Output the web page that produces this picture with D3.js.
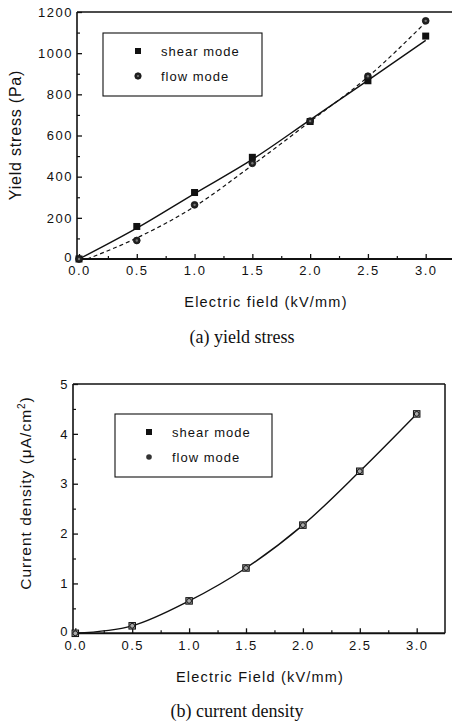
<!DOCTYPE html>
<html><head><meta charset="utf-8">
<script src="https://cdn.jsdelivr.net/npm/d3@7"></script>
<style>
body{margin:0;background:#fff;}
svg{display:block;}
text{font-family:"Liberation Sans",Arial,sans-serif;fill:#111;}
.cap{font-family:"Liberation Serif","Times New Roman",serif;}
</style></head>
<body>
<svg id="c" width="452" height="726"></svg>
<script>
// ---- data ----
const fieldX = [0, 0.5, 1.0, 1.5, 2.0, 2.5, 3.0];
const shearStress = [0, 158, 323, 494, 668, 866, 1083];
const flowStress = [0, 90, 263, 465, 670, 888, 1157];
const shearFitX = [0, 0.5, 1.0, 1.5, 2.0, 2.5, 3.0];
const shearFitY = [0, 150, 318, 484, 676, 868, 1062];
const flowFitX = [0.07, 0.5, 1.0, 1.5, 2.0, 2.5, 3.0];
const flowFitY = [0, 102, 255, 456, 668, 885, 1150];
const shearCurrent = [0, 0.15, 0.65, 1.31, 2.17, 3.25, 4.40];
const flowCurrent = [0, 0.15, 0.65, 1.31, 2.17, 3.25, 4.40];
const xTicks = [0, 0.5, 1.0, 1.5, 2.0, 2.5, 3.0];
const stressTicks = [0, 200, 400, 600, 800, 1000, 1200];
const currentTicks = [0, 1, 2, 3, 4, 5];
const legendLabels = ["shear mode", "flow mode"];

const svg = d3.select("#c");

function drawSquare(g, x, y, s, fill, stroke) {
  g.append("rect").attr("x", x - s/2).attr("y", y - s/2).attr("width", s).attr("height", s)
    .attr("fill", fill).attr("stroke", stroke || "none").attr("stroke-width", 1);
}
function drawCircle(g, x, y, r) {
  g.append("circle").attr("cx", x).attr("cy", y).attr("r", r).attr("fill", "#222").attr("stroke", "#111").attr("stroke-width", 0.8);
  g.append("circle").attr("cx", x).attr("cy", y).attr("r", r*0.35).attr("fill", "#777");
}

function axes(g, x, y, xt, yt, xMinor, yMinor, left, right, top, bottom, yFmt) {
  g.append("line").attr("x1", left).attr("x2", right).attr("y1", top).attr("y2", top).attr("stroke", "#111").attr("stroke-width", 1.5);
  g.append("line").attr("x1", left).attr("x2", left).attr("y1", top).attr("y2", bottom).attr("stroke", "#111").attr("stroke-width", 1.6);
  g.append("line").attr("x1", right).attr("x2", right).attr("y1", top).attr("y2", bottom).attr("stroke", "#111").attr("stroke-width", 1.5);
  g.append("line").attr("x1", left).attr("x2", right).attr("y1", bottom).attr("y2", bottom).attr("stroke", "#111").attr("stroke-width", 2);
  const xa = d3.axisBottom(x).tickValues(xt).tickSize(-5).tickFormat(d3.format(".1f"));
  const gx = g.append("g").attr("transform", `translate(0,${bottom})`).call(xa);
  gx.select(".domain").remove();
  gx.selectAll(".tick line").attr("stroke", "#111").attr("stroke-width", 1.3);
  gx.selectAll(".tick text").attr("y", 7).attr("font-size", 13).attr("letter-spacing", 1.5).attr("fill", "#111")
    .style("font-family", "'Liberation Sans',Arial,sans-serif");
  const xm = d3.axisBottom(x).tickValues(xMinor).tickSize(-3).tickFormat("");
  const gxm = g.append("g").attr("transform", `translate(0,${bottom})`).call(xm);
  gxm.select(".domain").remove();
  gxm.selectAll(".tick line").attr("stroke", "#111").attr("stroke-width", 1.2);
  const ya = d3.axisLeft(y).tickValues(yt).tickSize(-5).tickFormat(yFmt);
  const gy = g.append("g").attr("transform", `translate(${left},0)`).call(ya);
  gy.select(".domain").remove();
  gy.selectAll(".tick line").attr("stroke", "#111").attr("stroke-width", 1.3);
  gy.selectAll(".tick text").attr("x", -4).attr("font-size", 13).attr("letter-spacing", 1.5).attr("fill", "#111")
    .style("font-family", "'Liberation Sans',Arial,sans-serif");
  // nudge the zero label up slightly so it clears the x labels
  gy.selectAll(".tick").filter(d => d === 0).select("text").attr("dy", "0.2em");
  const ym = d3.axisLeft(y).tickValues(yMinor).tickSize(-3).tickFormat("");
  const gym = g.append("g").attr("transform", `translate(${left},0)`).call(ym);
  gym.select(".domain").remove();
  gym.selectAll(".tick line").attr("stroke", "#111").attr("stroke-width", 1.2);
}

const xMinor = [0.25, 0.75, 1.25, 1.75, 2.25, 2.75];

// ===== Top chart =====
{
  const left = 77, right = 457, top = 12, bottom = 259;
  const x = d3.scaleLinear().domain([0, 3.0]).range([79, 425.7]);
  const y = d3.scaleLinear().domain([0, 1200]).range([bottom, top]);
  const g = svg.append("g");
  axes(g, x, y, xTicks, stressTicks, xMinor, [100, 300, 500, 700, 900, 1100], left, right, top, bottom, d3.format("d"));

  const line = d3.line().x(d => x(d[0])).y(d => y(d[1])).curve(d3.curveMonotoneX);
  g.append("path").datum(shearFitX.map((v, i) => [v, shearFitY[i]])).attr("d", line)
    .attr("fill", "none").attr("stroke", "#111").attr("stroke-width", 1.4);
  g.append("path").datum(flowFitX.map((v, i) => [v, flowFitY[i]])).attr("d", line)
    .attr("fill", "none").attr("stroke", "#111").attr("stroke-width", 1.2).attr("stroke-dasharray", "4,3");

  fieldX.forEach((v, i) => drawSquare(g, x(v), y(shearStress[i]), 7, "#111"));
  fieldX.forEach((v, i) => drawCircle(g, x(v), y(flowStress[i]), 3.4));

  g.append("rect").attr("x", 103).attr("y", 33).attr("width", 159).attr("height", 63)
    .attr("fill", "none").attr("stroke", "#111").attr("stroke-width", 1.1);
  drawSquare(g, 138, 51, 6, "#111");
  drawCircle(g, 138, 76, 3.2);
  g.append("text").attr("x", 161).attr("y", 55.5).attr("font-size", 13).attr("letter-spacing", 1).text(legendLabels[0]);
  g.append("text").attr("x", 161).attr("y", 80.5).attr("font-size", 13).attr("letter-spacing", 1).text(legendLabels[1]);

  g.append("text").attr("transform", "translate(21,135) rotate(-90)").attr("text-anchor", "middle")
    .attr("font-size", 16).attr("letter-spacing", 0.8).text("Yield stress (Pa)");
  g.append("text").attr("x", 266).attr("y", 307).attr("text-anchor", "middle")
    .attr("font-size", 14.5).attr("letter-spacing", 1.2).text("Electric field (kV/mm)");
  g.append("text").attr("class", "cap").attr("x", 242).attr("y", 343).attr("text-anchor", "middle")
    .attr("font-size", 18).text("(a) yield stress");
}

// ===== Bottom chart =====
{
  const left = 73, right = 445, top = 384, bottom = 633.3;
  const x = d3.scaleLinear().domain([0, 3.0]).range([75.3, 416.7]);
  const y = d3.scaleLinear().domain([0, 5]).range([bottom, top]);
  const g = svg.append("g");
  axes(g, x, y, xTicks, currentTicks, xMinor, [0.5, 1.5, 2.5, 3.5, 4.5], left, right, top, bottom, d3.format("d"));

  const line = d3.line().x(d => x(d[0])).y(d => y(d[1])).curve(d3.curveCatmullRom);
  g.append("path").datum(fieldX.map((v, i) => [v, shearCurrent[i]])).attr("d", line)
    .attr("fill", "none").attr("stroke", "#111").attr("stroke-width", 1.4);

  fieldX.forEach((v, i) => drawSquare(g, x(v), y(shearCurrent[i]), 6.5, "#aaa", "#111"));
  fieldX.forEach((v, i) => {
    g.append("circle").attr("cx", x(v)).attr("cy", y(flowCurrent[i])).attr("r", 2.4)
      .attr("fill", "none").attr("stroke", "#111").attr("stroke-width", 1);
  });

  g.append("rect").attr("x", 115).attr("y", 414).attr("width", 157).attr("height", 63)
    .attr("fill", "none").attr("stroke", "#111").attr("stroke-width", 1.1);
  drawSquare(g, 149, 432, 6, "#111");
  g.append("circle").attr("cx", 149).attr("cy", 457).attr("r", 2.8).attr("fill", "#333");
  g.append("text").attr("x", 172).attr("y", 436.5).attr("font-size", 13).attr("letter-spacing", 1).text(legendLabels[0]);
  g.append("text").attr("x", 172).attr("y", 461.5).attr("font-size", 13).attr("letter-spacing", 1).text(legendLabels[1]);

  const yt = g.append("text").attr("transform", "translate(31,493) rotate(-90)").attr("text-anchor", "middle")
    .attr("font-size", 15.5).attr("letter-spacing", 1);
  yt.append("tspan").text("Current density (\u03bcA/cm");
  yt.append("tspan").attr("font-size", 10).attr("dy", -6).text("2");
  yt.append("tspan").attr("dy", 6).text(")");
  g.append("text").attr("x", 260).attr("y", 682).attr("text-anchor", "middle")
    .attr("font-size", 14.5).attr("letter-spacing", 1.2).text("Electric Field (kV/mm)");
  g.append("text").attr("class", "cap").attr("x", 237).attr("y", 717).attr("text-anchor", "middle")
    .attr("font-size", 18).text("(b) current density");
}
</script>
</body></html>
